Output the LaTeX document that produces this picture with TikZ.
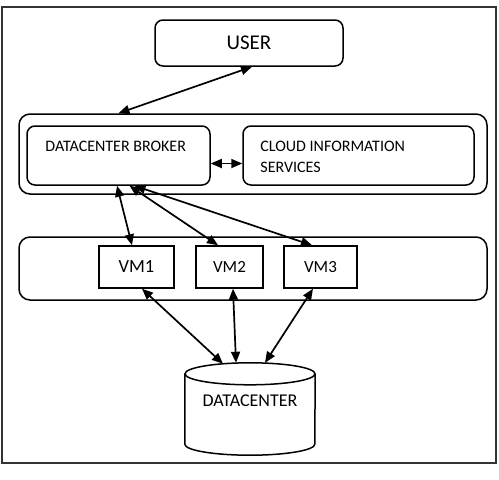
\documentclass[tikz,border=0pt]{standalone}
\usepackage{fontspec}
\setmainfont{Carlito}
\usetikzlibrary{arrows.meta, positioning, calc}

\begin{document}
\begin{tikzpicture}[x=1pt, y=-1pt,
    box/.style={draw, line width=1.5pt, rounded corners=8pt, inner sep=0pt},
    layer/.style={draw, line width=1.5pt, rounded corners=11pt, inner sep=0pt, minimum width=468},
    vmbox/.style={draw, line width=1.5pt, inner sep=0pt, minimum height=42, font=\fontsize{17}{20}\selectfont},
    lbl/.style={inner sep=0pt, align=left, font=\fontsize{16}{21}\selectfont},
    link/.style={{Triangle[length=11pt,width=9pt]}-{Triangle[length=11pt,width=9pt]}, line width=1.7pt}]
    \useasboundingbox (0,0) rectangle (499,480);
    % Outer frame
    \draw[line width=1.8pt, black!80] (2,7) rectangle (496,463);

    % User
    \node[box, minimum width=188, minimum height=46, font=\fontsize{21}{25}\selectfont] (user) at (249,43) {USER};

    % Broker layer
    \node[layer, minimum height=80] (brokerlayer) at (253,154) {};
    \node[box, minimum width=183, minimum height=59,
          label={[lbl, anchor=west, xshift=19pt, yshift=-21pt]north west:DATACENTER BROKER}] (broker) at (118.5,155.5) {};
    \node[box, minimum width=231, minimum height=59,
          label={[lbl, anchor=north west, xshift=18pt, yshift=-16pt]north west:CLOUD INFORMATION\\SERVICES}] (cloud) at (358.5,155.5) {};

    % VM layer
    \node[layer, minimum height=63] (vmlayer) at (253,268.5) {};
    \node[vmbox, minimum width=75, font=\fontsize{18.5}{22}\selectfont] (vm1) at (136.5,267) {VM1};
    \node[vmbox, minimum width=67] (vm2) at (229.5,267) {VM2};
    \node[vmbox, minimum width=73] (vm3) at (320.5,267) {VM3};

    % Datacenter (cylinder)
    \node[minimum width=130, minimum height=92, inner sep=0pt,
          label={[font=\fontsize{18}{22}\selectfont, yshift=8pt]center:DATACENTER}] (dc) at (250,409) {};
    \draw[line width=1.5pt] ([yshift=-11pt]dc.north) ellipse[x radius=65pt, y radius=11pt];
    \draw[line width=1.5pt] ([yshift=-11pt]dc.north west) -- ([yshift=11pt]dc.south west)
        arc[start angle=180, end angle=360, x radius=65pt, y radius=11pt]
        -- ([yshift=-11pt]dc.north east);

    % Connectors
    \draw[link] ([xshift=3pt]user.south) -- (broker.north |- brokerlayer.north);
    \draw[link] ([yshift=-8pt]broker.east) -- ([yshift=-8pt]cloud.west);
    \draw[link] ([xshift=-1.5pt]broker.south) -- ([xshift=-4.5pt]vm1.north);
    \draw[link] ([xshift=11pt]broker.south) -- ([xshift=-11.5pt]vm2.north);
    \draw[link] ([xshift=16pt]broker.south) -- ([xshift=-8.5pt]vm3.north);
    \draw[link] ([xshift=5.5pt]vm1.south) -- ([xshift=-27pt, yshift=-1pt]dc.north);
    \draw[link] ([xshift=3.5pt]vm2.south) -- ([xshift=-14pt]dc.north);
    \draw[link] ([xshift=-7.5pt]vm3.south) -- ([xshift=15pt]dc.north);
\end{tikzpicture}
\end{document}
